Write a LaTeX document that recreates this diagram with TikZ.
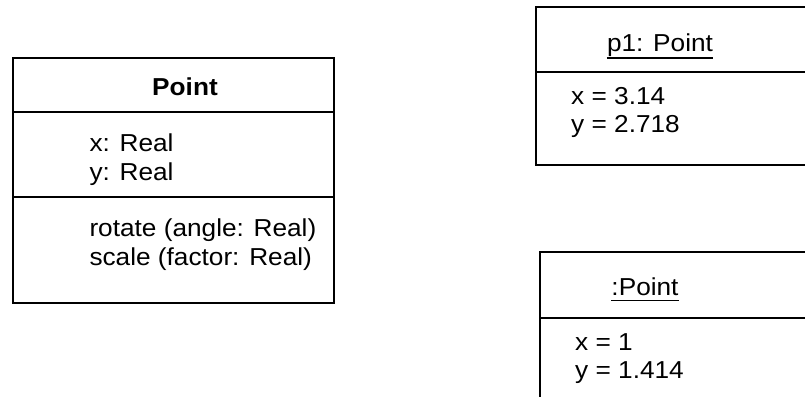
\documentclass[tikz,border=0pt]{standalone}
\usepackage{fontspec}
\setmainfont{Liberation Sans}[FakeStretch=1.07]
\begin{document}
\begin{tikzpicture}[x=1pt,y=-1pt,
  every node/.style={inner sep=0pt, font=\fontsize{24.5}{28.3}\selectfont},
  box/.style={line width=2pt},
  txt/.style={anchor=base west},
  ttl/.style={anchor=base},
  uline/.style={line width=1.4pt}]
\useasboundingbox (0,0) rectangle (805,396);
\clip (0,0) rectangle (805,396);
% class Point
\draw[box] (12.7,58.3) rectangle (334.3,302.7);
\draw[box] (12.7,111.7) -- (334.3,111.7);
\draw[box] (12.7,196.7) -- (334.3,196.7);
\node[ttl, font=\fontsize{24.5}{28.3}\selectfont\bfseries] (cname) at (185,95) {Point};
\node[txt] (ax) at (89.3,151.7) {x: Real};
\node[txt] (ay) at (89.3,180) {y: Real};
\node[txt] (op1) at (89.3,236.7) {rotate (angle: Real)};
\node[txt] (op2) at (89.3,265) {scale (factor: Real)};
% object p1
\draw[box] (536,6.7) rectangle (830,165);
\draw[box] (536,72) -- (830,72);
\node[ttl] (p1) at (660,51.7) {p1: Point};
\draw[uline] ([yshift=-6.5pt]p1.base west) -- ([yshift=-6.5pt]p1.base east);
\node[txt] (p1x) at (571,104.5) {x = 3.14};
\node[txt] (p1y) at (571,132.8) {y = 2.718};
% anonymous object
\draw[box] (540,251.7) rectangle (830,420);
\draw[box] (540,317.7) -- (830,317.7);
\node[ttl] (p2) at (645,295) {:Point};
\draw[uline] ([yshift=-5.5pt]p2.base west) -- ([yshift=-5.5pt]p2.base east);
\node[txt] (p2x) at (575,350) {x = 1};
\node[txt] (p2y) at (575,378.3) {y = 1.414};
\end{tikzpicture}
\end{document}
